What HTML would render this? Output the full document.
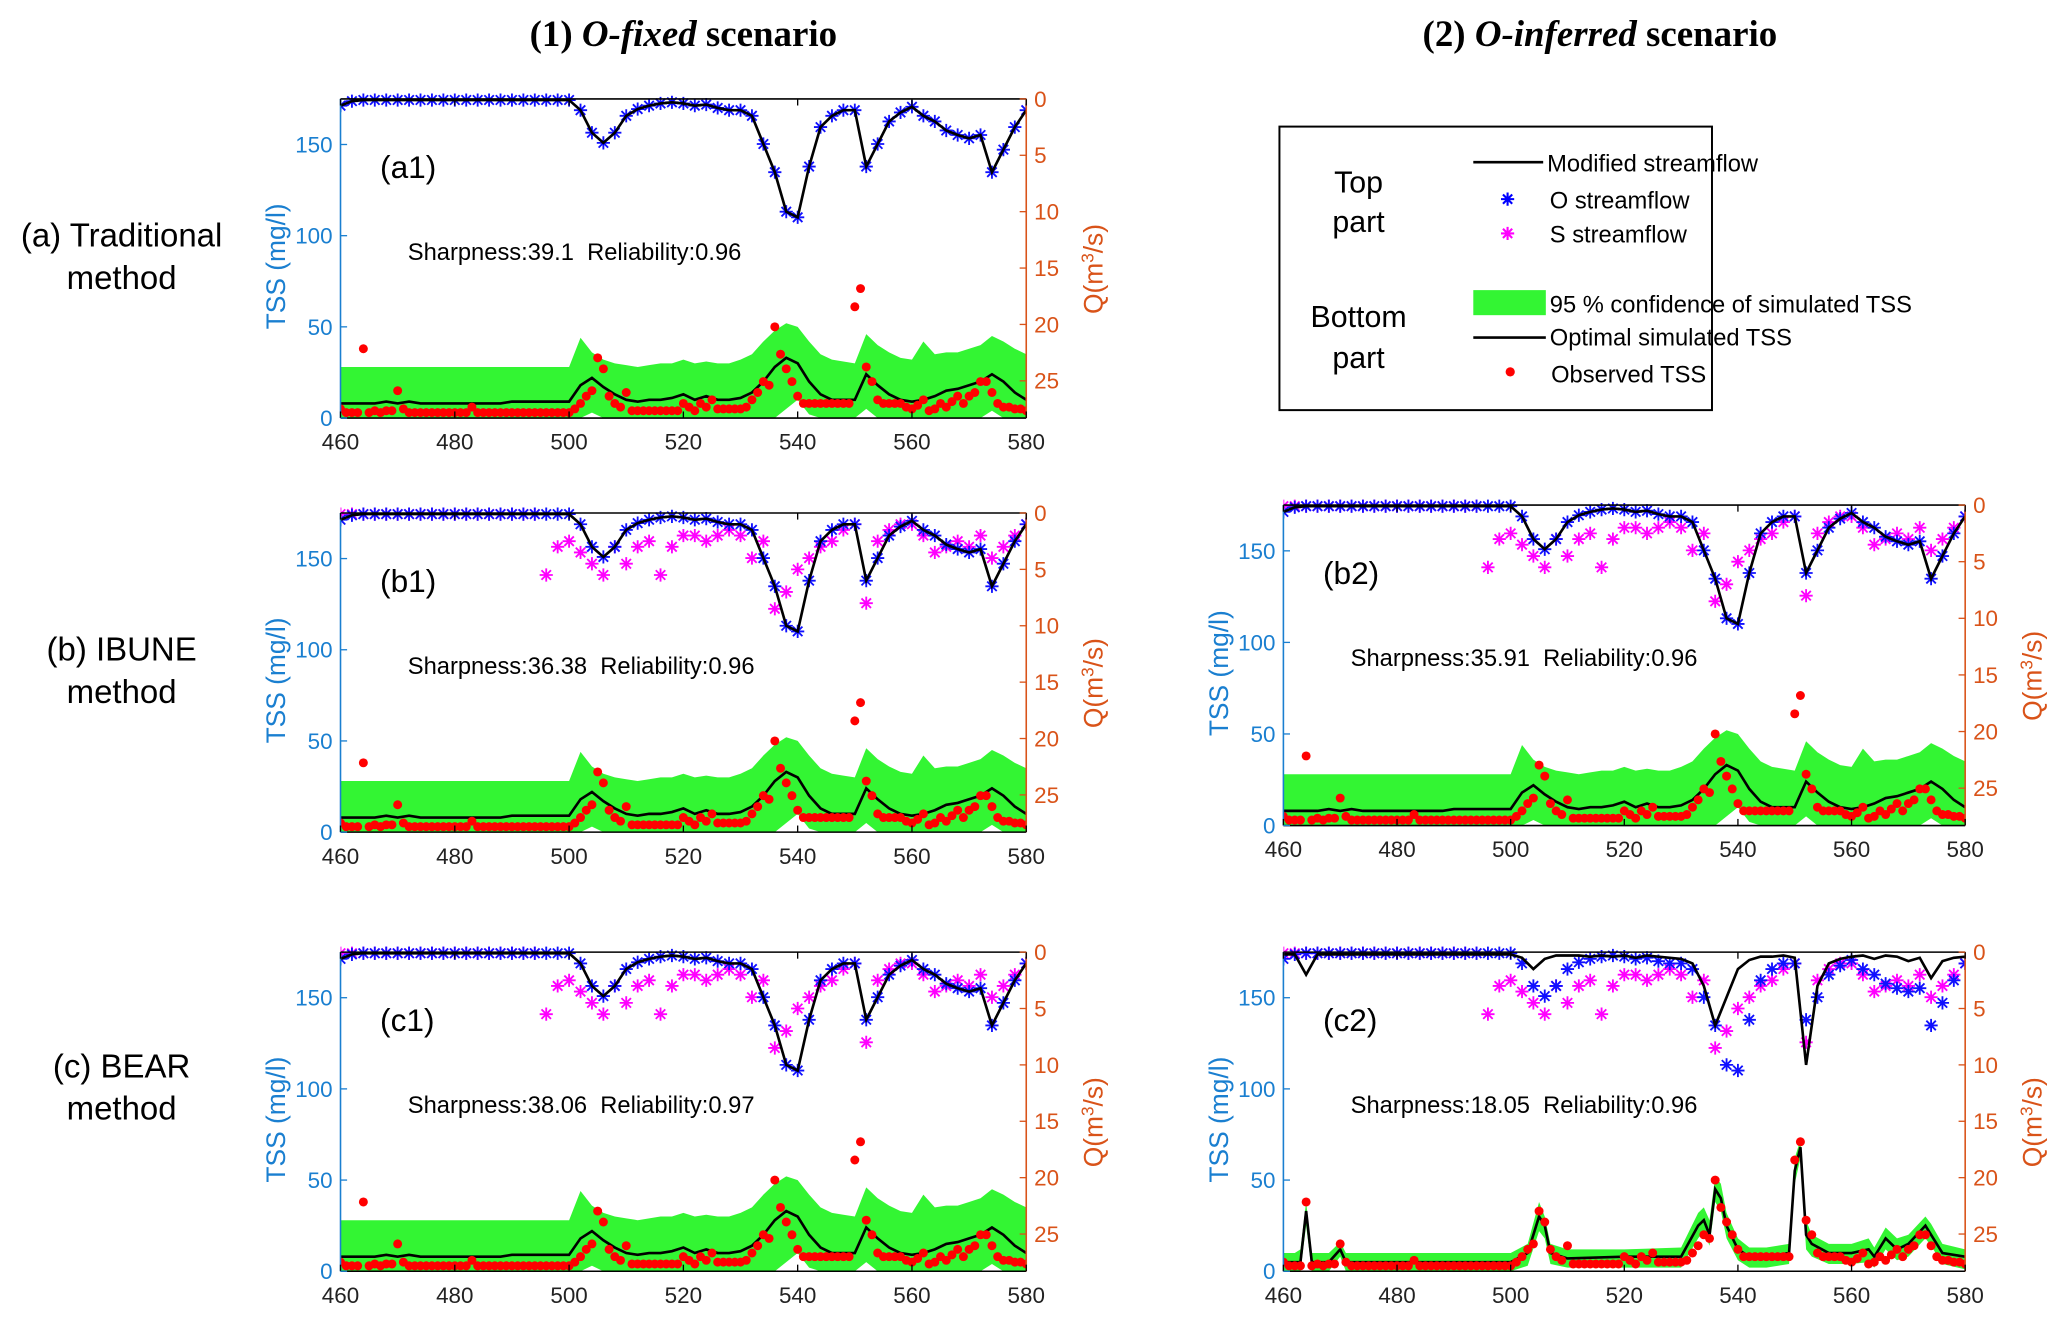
<!DOCTYPE html>
<html><head><meta charset="utf-8"><style>
html,body{margin:0;padding:0;background:#fff;}
svg{display:block;font-family:"Liberation Sans",sans-serif;}
</style></head><body>
<svg id="fig" width="2067" height="1324" viewBox="0 0 1567 1004" xmlns="http://www.w3.org/2000/svg">
<text x="518" y="35" text-anchor="middle" font-family="Liberation Serif,serif" font-weight="bold" font-size="28">(1) <tspan font-style="italic">O-fixed</tspan> scenario</text>
<text x="1213" y="35" text-anchor="middle" font-family="Liberation Serif,serif" font-weight="bold" font-size="28">(2) <tspan font-style="italic">O-inferred</tspan> scenario</text>
<text x="92" y="187" text-anchor="middle" font-size="25">(a) Traditional</text>
<text x="92" y="219" text-anchor="middle" font-size="25">method</text>
<text x="92" y="501" text-anchor="middle" font-size="25">(b) IBUNE</text>
<text x="92" y="533" text-anchor="middle" font-size="25">method</text>
<text x="92" y="817" text-anchor="middle" font-size="25">(c) BEAR</text>
<text x="92" y="849" text-anchor="middle" font-size="25">method</text>
<g>
<rect x="970" y="96" width="328" height="215" fill="#fff" stroke="#000" stroke-width="1.5"/>
<text x="1030" y="146" text-anchor="middle" font-size="23">Top</text>
<text x="1030" y="176" text-anchor="middle" font-size="23">part</text>
<text x="1030" y="248" text-anchor="middle" font-size="23">Bottom</text>
<text x="1030" y="279" text-anchor="middle" font-size="23">part</text>
<line x1="1117" y1="123" x2="1170" y2="123" stroke="#000" stroke-width="2"/>
<text x="1173" y="130" font-size="18">Modified streamflow</text>
<path d="M1138 151h10M1143 146v10M1139.5 147.5l7 7M1139.5 154.5l7-7" stroke="#00f" stroke-width="1.6"/>
<text x="1175" y="158" font-size="18">O streamflow</text>
<path d="M1138 177h10M1143 172v10M1139.5 173.5l7 7M1139.5 180.5l7-7" stroke="#f0f" stroke-width="1.6"/>
<text x="1175" y="184" font-size="18">S streamflow</text>
<rect x="1117" y="220" width="55" height="19" fill="#33f533"/>
<text x="1175" y="237" font-size="18">95 % confidence of simulated TSS</text>
<line x1="1117" y1="256" x2="1172" y2="256" stroke="#000" stroke-width="2"/>
<text x="1175" y="262" font-size="18">Optimal simulated TSS</text>
<circle cx="1145" cy="282" r="3.5" fill="#f00"/>
<text x="1176" y="290" font-size="18">Observed TSS</text>
</g>
</svg>
<script>
const days2 = [];
for (let d = 460; d <= 580; d += 2) days2.push(d);
const qObs = [0.6,0.2,0.1,0.1,0.1,0.1,0.1,0.1,0.1,0.1,0.1,0.1,0.1,0.1,0.1,0.1,0.1,0.1,0.1,0.1,0.1,
 1,3,3.9,3,1.5,0.9,0.6,0.4,0.3,0.4,0.6,0.5,0.8,1,1,1.5,4,6.5,10,10.5,6,2.5,1.5,1,1,6,4,2,1.2,0.7,1.5,2,2.8,3.2,3.5,3.2,6.5,4.5,2.5,1];
const qS = [0.1,0.1,0.1,0.1,0.1,0.1,0.1,0.1,0.1,0.1,0.1,0.1,0.1,0.1,0.1,0.1,0.1,0.1,
 5.5,3,2.5,3.5,4.5,5.5,3,4.5,3,2.5,5.5,3,2,2,2.5,2,1.5,2,4,2.5,8.5,7,5,4,3,2.5,1.5,1,8,2.5,1.5,1,1,2,3.5,3,2.5,3,2,4,3,2,1];
const qModC2 = [0.2,0.2,2,0.2,0.2,0.2,0.2,0.2,0.2,0.2,0.2,0.2,0.2,0.2,0.2,0.2,0.2,0.2,0.2,0.2,0.2,
 0.5,1.5,0.6,0.3,0.3,0.3,0.4,0.3,0.4,0.3,0.5,0.3,0.4,0.5,0.6,1,3,6.5,4,1.5,0.7,0.4,0.4,0.3,0.5,10,3,1,0.6,0.4,0.3,0.6,0.3,0.4,0.8,0.5,2.3,0.8,0.5,0.4];
const tssSim = [8,8,8,8,9,8,9,8,8,8,8,8,8,8,8,9,9,9,9,9,9,
 18,22,17,13,10,9,10,10,11,13,10,12,10,10,11,14,20,28,33,30,20,13,10,10,10,24,18,13,10,9,10,12,15,16,18,20,24,20,14,10];
const tssUp = [28,28,28,28,28,28,28,28,28,28,28,28,28,28,28,28,28,28,28,28,28,
 44,36,32,30,29,28,29,30,30,32,30,31,30,30,32,35,42,48,52,50,42,35,32,31,30,46,40,36,33,32,42,35,36,36,38,40,45,42,38,35];
const tssLo = [0,0,0,0,0,0,0,0,0,0,0,0,0,0,0,0,0,0,0,0,0,
 0,3,0,0,0,0,0,0,0,0,0,0,0,0,0,0,0,0,5,10,2,0,0,0,0,5,0,0,0,0,0,0,0,0,0,0,4,0,0,0];
const c2Days = [460,462,463,464,465,468,470,471,474,480,490,500,503,505,506,507,510,520,530,533,534,535,536,537,538,540,542,545,549,550,551,552,553,556,560,563,564,566,568,570,573,574,576,580];
const c2Sim = [5,5,5,33,5,5,12,5,5,5,5,5,10,30,25,10,7,8,8,25,28,20,45,40,25,12,8,8,10,55,68,20,15,10,10,12,8,18,12,15,25,20,10,8];
const c2Up = [10,10,12,38,10,10,16,10,10,10,10,10,15,38,30,15,12,12,13,32,35,28,52,48,32,18,13,13,15,62,72,28,20,15,15,18,13,24,18,20,30,26,15,12];
const c2Lo = [0,0,0,25,0,0,8,0,0,0,0,0,3,22,18,4,2,2,2,18,22,14,38,33,18,6,2,2,4,48,62,12,8,4,4,5,2,12,6,8,18,14,4,1];
const obsTss = [5,3,3,3,38,3,4,3,4,4, 15,5,3,3,3,3,3,3,3,3, 3,3,3,6,3,3,3,3,3,3, 3,3,3,3,3,3,3,3,3,3,
 3,5,8,12,15,33,27,12,8,6, 14,4,4,4,4,4,4,4,4,4, 8,6,4,8,6,10,5,5,5,5, 5,6,10,14,20,18,50,35,27,20,
 12,8,8,8,8,8,8,8,8,8, 61,71,28,20,10,8,8,8,8,6, 5,7,10,4,5,8,6,9,12,8, 12,14,20,20,14,8,6,6,5,5,4];
const obsDays = [];
for (let d = 460; d <= 580; d++) obsDays.push(d);
const xTicks = [460,480,500,520,540,560,580];
const tssTicks = [0,50,100,150];
const qTicks = [0,5,10,15,20,25];

const NS = "http://www.w3.org/2000/svg";
const svg = document.getElementById('fig');
function mk(tag, attrs, parent) {
  const e = document.createElementNS(NS, tag);
  for (const k in attrs) e.setAttribute(k, attrs[k]);
  (parent || svg).appendChild(e);
  return e;
}
function panel(ox, oy, w, h, o) {
  const g = mk('g', {});
  
  
  const X = d => ox + (d - 460) / 120 * w;
  const Y = v => oy + h - v / 175 * h;
  const Q = q => oy + q / 28.3 * h;
  const cid = 'clip' + o.id;
  const cp = mk('clipPath', {id: cid}, g);
  mk('rect', {x: ox, y: oy - 6, width: w, height: h + 6}, cp);
  const pg = mk('g', {'clip-path': 'url(#' + cid + ')'}, g);
  let pts = o.bd.map((d, i) => X(d) + ',' + Y(o.up[i]));
  for (let i = o.bd.length - 1; i >= 0; i--) pts.push(X(o.bd[i]) + ',' + Y(o.lo[i]));
  const band = mk('polygon', {points: pts.join(' '), fill: '#33f533'}, pg);
  
  
  const sim = mk('polyline', {points: o.bd.map((d, i) => X(d) + ',' + Y(o.sim[i])).join(' '), fill: 'none', stroke: '#000', 'stroke-width': 2}, pg);
  
  
  obsDays.forEach((d, i) => {
    const c = mk('circle', {cx: X(d), cy: Y(obsTss[i]), r: 3.4, fill: '#f00'}, pg);
    
    
  });
  function star(x, y, col) {
    const p = mk('path', {d: `M${x-5} ${y}h10M${x} ${y-5}v10M${x-3.6} ${y-3.6}l7.2 7.2M${x-3.6} ${y+3.6}l7.2-7.2`, stroke: col, 'stroke-width': 1.4}, pg);
    
    
  }
  if (o.showS) days2.forEach((d, i) => star(X(d), Q(qS[i]), '#f0f'));
  days2.forEach((d, i) => star(X(d), Q(qObs[i]), '#1010ff'));
  const ml = mk('polyline', {points: days2.map((d, i) => X(d) + ',' + Q(o.qm[i])).join(' '), fill: 'none', stroke: '#000', 'stroke-width': 2}, pg);
  
  
  mk('line', {x1: ox, y1: oy, x2: ox + w, y2: oy, stroke: '#000', 'stroke-width': 1.2}, g);
  mk('line', {x1: ox, y1: oy + h, x2: ox + w, y2: oy + h, stroke: '#000', 'stroke-width': 1.2}, g);
  mk('line', {x1: ox, y1: oy, x2: ox, y2: oy + h, stroke: '#1a7fd0', 'stroke-width': 1.2}, g);
  mk('line', {x1: ox + w, y1: oy, x2: ox + w, y2: oy + h, stroke: '#d95319', 'stroke-width': 1.2}, g);
  xTicks.forEach(t => {
    mk('line', {x1: X(t), y1: oy + h, x2: X(t), y2: oy + h - 5, stroke: '#000'}, g);
    mk('line', {x1: X(t), y1: oy, x2: X(t), y2: oy + 5, stroke: '#000'}, g);
    const tx = mk('text', {x: X(t), y: oy + h + 24, 'text-anchor': 'middle', 'font-size': 17, fill: '#222'}, g);
    tx.textContent = t;
    
    
  });
  tssTicks.forEach(t => {
    mk('line', {x1: ox, y1: Y(t), x2: ox + 5, y2: Y(t), stroke: '#1a7fd0'}, g);
    const tx = mk('text', {x: ox - 6, y: Y(t) + 6, 'text-anchor': 'end', 'font-size': 17, fill: '#1a7fd0'}, g);
    tx.textContent = t;
    
    
  });
  qTicks.forEach(t => {
    mk('line', {x1: ox + w, y1: Q(t), x2: ox + w - 5, y2: Q(t), stroke: '#d95319'}, g);
    const tx = mk('text', {x: ox + w + 6, y: Q(t) + 6, 'font-size': 17, fill: '#d95319'}, g);
    tx.textContent = t;
    
    
  });
  const yl = mk('text', {x: 0, y: 0, transform: `translate(${ox - 42},${oy + h / 2 + 6}) rotate(-90)`, 'text-anchor': 'middle', 'font-size': 20, fill: '#1a7fd0'}, g);
  yl.textContent = 'TSS (mg/l)';
  
  
  const ql = mk('text', {x: 0, y: 0, transform: `translate(${ox + w + 58},${oy + h / 2 + 8}) rotate(-90)`, 'text-anchor': 'middle', 'font-size': 20, fill: '#d95319'}, g);
  ql.innerHTML = 'Q(m<tspan dy="-7" font-size="13">3</tspan><tspan dy="7">/s)</tspan>';
  
  
  const lb = mk('text', {x: ox + 30, y: oy + 60, 'font-size': 24}, g);
  lb.textContent = '(' + o.id + ')';
  
  
  const sh = mk('text', {x: ox + 51, y: oy + 122, 'font-size': 18}, g);
  sh.textContent = o.sharp;
  
  
}
const A = {bd: days2, up: tssUp, lo: tssLo, sim: tssSim, qm: qObs};
panel(258, 75, 520, 242, Object.assign({id: 'a1', showS: false, sharp: 'Sharpness:39.1\u00a0\u00a0Reliability:0.96'}, A));
panel(258, 389, 520, 242, Object.assign({id: 'b1', showS: true, sharp: 'Sharpness:36.38\u00a0\u00a0Reliability:0.96'}, A));
panel(973, 383, 517, 243, Object.assign({id: 'b2', showS: true, sharp: 'Sharpness:35.91\u00a0\u00a0Reliability:0.96'}, A));
panel(258, 722, 520, 242, Object.assign({id: 'c1', showS: true, sharp: 'Sharpness:38.06\u00a0\u00a0Reliability:0.97'}, A));
panel(973, 722, 517, 242, {id: 'c2', showS: true, sharp: 'Sharpness:18.05\u00a0\u00a0Reliability:0.96', bd: c2Days, up: c2Up, lo: c2Lo, sim: c2Sim, qm: qModC2});
</script>
</body></html>
